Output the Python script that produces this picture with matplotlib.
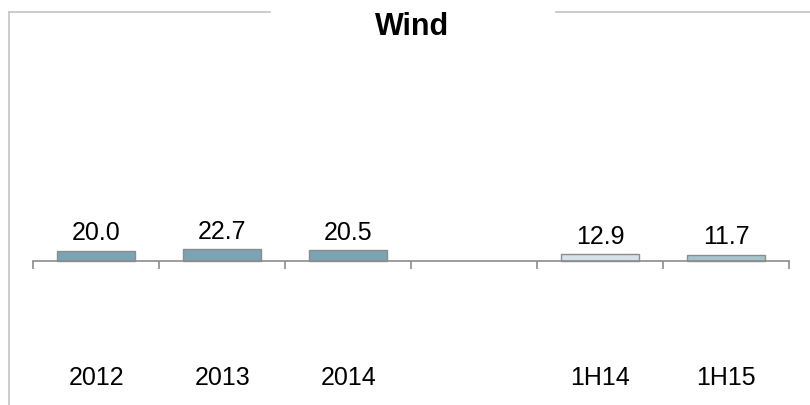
import matplotlib
matplotlib.use("Agg")

import matplotlib.pyplot as plt
import numpy as np
from matplotlib.lines import Line2D

# ---------------------------------------------------
# DATA
# ---------------------------------------------------

categories = ["2012", "2013", "2014", "", "1H14", "1H15"]
values = [20.0, 22.7, 20.5, np.nan, 12.9, 11.7]
bar_colors = ["#7aa3b4", "#7aa3b4", "#7aa3b4", "#ffffff", "#d6e2e8", "#a5c5ce"]
title = "Wind"

plt.rcParams["font.family"] = ["Liberation Sans", "DejaVu Sans"]

W, H = 810, 405
fig = plt.figure(figsize=(W / 100, H / 100), dpi=100)

# axes placed in pixel terms: x from 33.3 to 789.3, y from 40 to 395
ax = fig.add_axes([33.3 / W, 1 - 395 / H, 756 / W, 355 / H])

x = np.arange(len(categories))
ax.bar(x, values, width=0.62, color=bar_colors, edgecolor="#8c8c8c", linewidth=1.0)

ax.set_xlim(-0.5, len(categories) - 0.5)
ax.set_ylim(-258, 425)

# ---------------------------------------------------
# AXIS STYLE
# ---------------------------------------------------

for side in ["top", "right", "left"]:
    ax.spines[side].set_visible(False)
ax.spines["bottom"].set_position(("data", 0))
ax.spines["bottom"].set_color("#8c8c8c")
ax.spines["bottom"].set_linewidth(1.2)

ax.set_yticks([])
ax.set_xticks(np.arange(len(categories) + 1) - 0.5)
ax.set_xticklabels([])
ax.tick_params(axis="x", direction="out", length=5.5, width=1.2, color="#8c8c8c")

# ---------------------------------------------------
# LABELS
# ---------------------------------------------------

for xi, v in zip(x, values):
    if np.isnan(v):
        continue
    ax.annotate(f"{v:.1f}", (xi, v), xytext=(0, 7.5), textcoords="offset points",
                ha="center", va="baseline", fontsize=18, color="#000000")

for xi, c in zip(x, categories):
    ax.text(xi, 17 / 355, c, transform=ax.get_xaxis_transform(), ha="center",
            va="center", fontsize=18, color="#000000")

fig.text(412 / W, 1 - 27 / H, title, ha="center", va="center",
         fontsize=22, fontweight="bold")

# ---------------------------------------------------
# FRAME
# ---------------------------------------------------

frame_color = "#c4c4c4"
fig.add_artist(Line2D([9 / W, 9 / W], [1 - 11.5 / H, 0], color=frame_color, lw=1.2))
fig.add_artist(Line2D([9 / W, 270 / W], [1 - 11.5 / H, 1 - 11.5 / H], color=frame_color, lw=1.2))
fig.add_artist(Line2D([556 / W, 1], [1 - 11.5 / H, 1 - 11.5 / H], color=frame_color, lw=1.2))

plt.savefig("out.png", dpi=100)
plt.close()
